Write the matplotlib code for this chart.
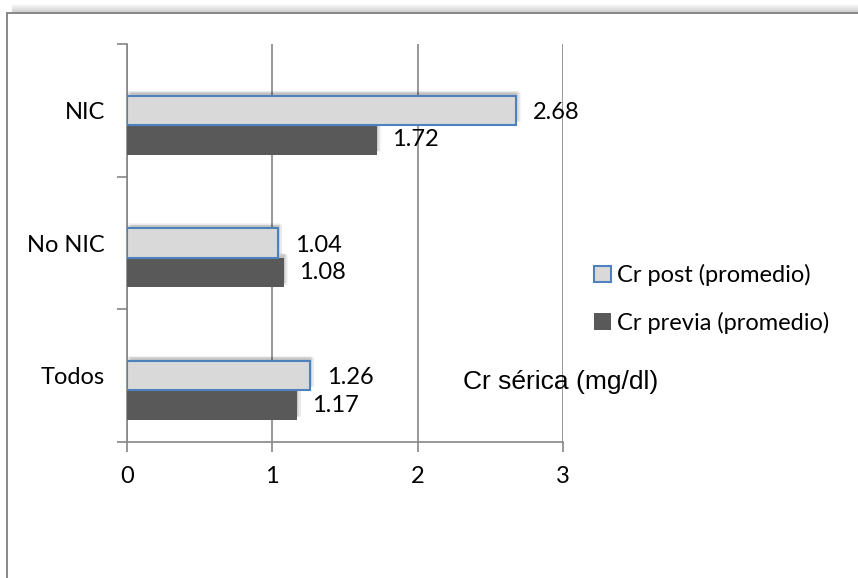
import matplotlib.pyplot as plt
import matplotlib.patheffects as pe
from matplotlib.patches import Rectangle, Patch
import numpy as np

categorias = ['Todos', 'No NIC', 'NIC']
cr_post = [1.26, 1.04, 2.68]
cr_previa = [1.17, 1.08, 1.72]
etiquetas_x = ['0', '1', '2', '3']

gris_eje = '#868686'
fuente = 'Lato'
tam = 17

fig = plt.figure(figsize=(8.58, 5.78), dpi=100)

# sombra difusa sobre el borde superior del marco
for i in range(9):
    fig.patches.append(Rectangle((12 / 858, 1 - (13 - i) / 578), 1.2, 1 / 578, transform=fig.transFigure,
                                 facecolor='black', edgecolor='none', alpha=0.2 * (1 - i / 9), zorder=-6))

# marco del grafico
marco = Rectangle((7 / 858, -0.1), 1.2, 1 - 13 / 578 + 0.1, transform=fig.transFigure,
                  facecolor='white', edgecolor='#7f7f7f', linewidth=1.3, zorder=-5)
fig.patches.append(marco)

ax = fig.add_axes([127 / 858, 1 - 442 / 578, 436 / 858, 398 / 578])
ax.patch.set_alpha(0)

y = np.arange(len(categorias))
alto = 0.223
desplaz = [(0, 1.5), (1.5, 2.5), (2.5, 3), (1, 3.5), (3, 2), (0.5, 2.5)]
sombra = [pe.SimplePatchShadow(offset=o, shadow_rgbFace='#000000', alpha=0.045) for o in desplaz] + [pe.Normal()]

b_prev = ax.barh(y - alto, cr_previa, height=alto, color='#595959', edgecolor='none', zorder=3)
b_post = ax.barh(y, cr_post, height=alto, color='#d9d9d9', edgecolor='#4f81bd', linewidth=1.5, zorder=4)
for b in list(b_prev) + list(b_post):
    b.set_path_effects(sombra)

for yi, v in zip(y, cr_post):
    ax.annotate(f'{v:.2f}', (v, yi), xytext=(12, -1.5), textcoords='offset points',
                va='center', ha='left', fontsize=tam, family=fuente, zorder=5)
for yi, v in zip(y, cr_previa):
    ax.annotate(f'{v:.2f}', (v, yi - alto), xytext=(11, 0), textcoords='offset points',
                va='center', ha='left', fontsize=tam, family=fuente, zorder=5)

ax.set_xlim(0, 3)
ax.set_ylim(-0.5, 2.5)
ax.set_xticks([0, 1, 2, 3])
ax.set_xticklabels(etiquetas_x, fontsize=tam, family=fuente)
ax.set_yticks(y)
ax.set_yticklabels(categorias, fontsize=tam, family=fuente)
ax.set_yticks([-0.5, 0.5, 1.5, 2.5], minor=True)
ax.tick_params(axis='y', which='major', length=0, pad=16)
ax.tick_params(axis='y', which='minor', length=7, color=gris_eje, width=1.2)
ax.tick_params(axis='x', length=7, color=gris_eje, width=1.2, pad=10)

ax.grid(axis='x', color=gris_eje, linewidth=1.2, zorder=1)
for s in ['top', 'right']:
    ax.spines[s].set_visible(False)
for s in ['left', 'bottom']:
    ax.spines[s].set_color(gris_eje)
    ax.spines[s].set_linewidth(1.2)

ax.text(463 / 858, 1 - 382 / 578, 'Cr sérica (mg/dl)', transform=fig.transFigure,
        fontsize=19, family='Liberation Sans', va='center', ha='left', zorder=6)

handles = [Patch(facecolor='#d9d9d9', edgecolor='#4f81bd', linewidth=1.5),
           Patch(facecolor='#595959', edgecolor='none')]
etiquetas = ['Cr post (promedio)', 'Cr previa (promedio)']
leg = fig.legend(handles, etiquetas, loc='center left',
                 bbox_to_anchor=(573 / 858, 1 - 299 / 578), frameon=False,
                 prop={'family': fuente, 'size': tam}, handlelength=0.7, handleheight=0.7,
                 handletextpad=0.25, labelspacing=1.08)

plt.savefig('out.png', dpi=100)
plt.close()
